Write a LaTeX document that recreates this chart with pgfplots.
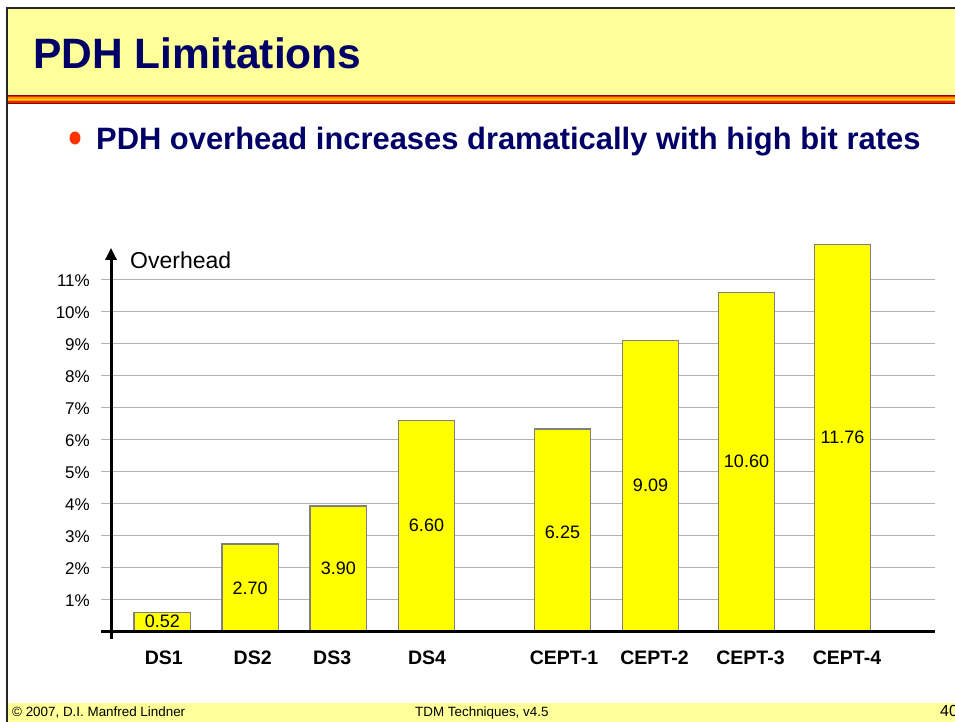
\documentclass[border=0pt]{standalone}
\usepackage{pgfplots}
\pgfplotsset{compat=1.18}
\usepackage{pgfplotstable}
\usepackage{fontspec}
\setmainfont{Liberation Sans}
\usetikzlibrary{arrows.meta}
\definecolor{navy}{RGB}{0,0,102}
\definecolor{bandyellow}{RGB}{255,255,153}
\definecolor{baryellow}{RGB}{255,255,0}
\definecolor{bargray}{RGB}{128,128,128}
\definecolor{gridgray}{RGB}{178,178,178}
\definecolor{bulletred}{RGB}{255,51,0}
\definecolor{darkred}{RGB}{150,0,0}
\definecolor{stripered}{RGB}{230,40,0}
\definecolor{stripeorange}{RGB}{255,150,0}
\definecolor{stripeyellow}{RGB}{255,220,0}

\pgfplotstableread{
x     y     ly    lab
162.4 0.59  0.30  0.52
250.2 2.73  1.33  2.70
338.4 3.91  1.97  3.90
426.5 6.58  3.30  6.60
562.5 6.32  3.10  6.25
650.5 9.08  4.57  9.09
746.5 10.59 5.30  10.60
842.5 12.09 6.05  11.76
}\data

\begin{document}
\begin{tikzpicture}[x=1pt,y=1pt]
\useasboundingbox (0pt,0pt) rectangle (955pt,722pt);
\fill[white] (0,0) rectangle (955,722);
% title band
\fill[bandyellow] (7,722-95) rectangle (955,722-9);
% stripe
\fill[darkred] (7,722-104) rectangle (955,722-95);
\fill[stripered] (7,722-103) rectangle (955,722-96);
\fill[stripeorange] (7,722-101.5) rectangle (955,722-97.5);
\fill[stripeyellow] (7,722-100.3) rectangle (955,722-98.7);
% footer band
\fill[bandyellow] (7,0) rectangle (955,722-703);
% borders
\draw[line width=2pt, black!85] (6,722-8) -- (955,722-8);
\draw[line width=2.5pt, black!85] (7,0) -- (7,722-7);
% title
\node[anchor=base west, inner sep=0pt, font=\fontsize{42.5}{45}\selectfont\bfseries, text=navy] at (33,722-68.3) {PDH Limitations};
% bullet
\fill[bulletred] (75,722-138) ellipse (5.5 and 6.5);
\node[anchor=base west, inner sep=0pt, font=\fontsize{30.9}{33}\selectfont\bfseries, text=navy] at (96,722-150) {PDH overhead increases dramatically with high bit rates};
% footer
\node[anchor=base west, inner sep=0pt, font=\fontsize{13.4}{14}\selectfont] at (12,722-717) {© 2007, D.I. Manfred Lindner};
\node[anchor=base west, inner sep=0pt, font=\fontsize{13.4}{14}\selectfont] at (415,722-717) {TDM Techniques, v4.5};
\node[anchor=base west, inner sep=0pt, font=\fontsize{16}{18}\selectfont] at (940,722-717) {40};

\begin{axis}[
  at={(101pt,90.7pt)}, anchor=south west,
  scale only axis, width=834pt, height=384pt,
  xmin=101, xmax=935, ymin=0, ymax=12,
  clip=false,
  axis line style={draw=none},
  major tick length=0pt,
  ytick={1,2,...,11},
  yticklabel={\pgfmathprintnumber{\tick}\%},
  ymajorgrids, grid style={gridgray, line width=1pt},
  xtick={163.8,252.7,332.2,427,564,654.5,750.5,847},
  xticklabels={DS1,DS2,DS3,DS4,CEPT-1,CEPT-2,CEPT-3,CEPT-4},
  xticklabel style={font=\fontsize{19.5}{20}\selectfont\bfseries, anchor=base, yshift=-33.7pt, inner sep=0pt},
  yticklabel style={font=\fontsize{17}{19}\selectfont, anchor=base east, xshift=-11pt, yshift=-7.4pt, inner sep=0pt},
  /pgf/number format/assume math mode=true,
]
\addplot[ybar, bar width=56.4, fill=baryellow, draw=bargray, line width=1.5pt] table[x=x,y=y]{\data};
\addplot[only marks, mark=none,
  nodes near coords={\pgfmathprintnumber[fixed,fixed zerofill,precision=2,assume math mode=true]{\pgfplotspointmeta}},
  point meta=explicit,
  nodes near coords style={anchor=center, font=\fontsize{18}{20}\selectfont, text=black, inner sep=0pt}]
  table[x=x, y=ly, meta=lab]{\data};
\draw[line width=3pt, -{Triangle[length=12pt,width=11pt]}] (axis cs:111,-0.24) -- (axis cs:111,11.98);
\draw[line width=3pt] (axis cs:101,0) -- (axis cs:935,0);
\node[anchor=base west, inner sep=0pt, font=\fontsize{23}{25}\selectfont] at (axis cs:130,11.34) {Overhead};
\end{axis}
\end{tikzpicture}
\end{document}
